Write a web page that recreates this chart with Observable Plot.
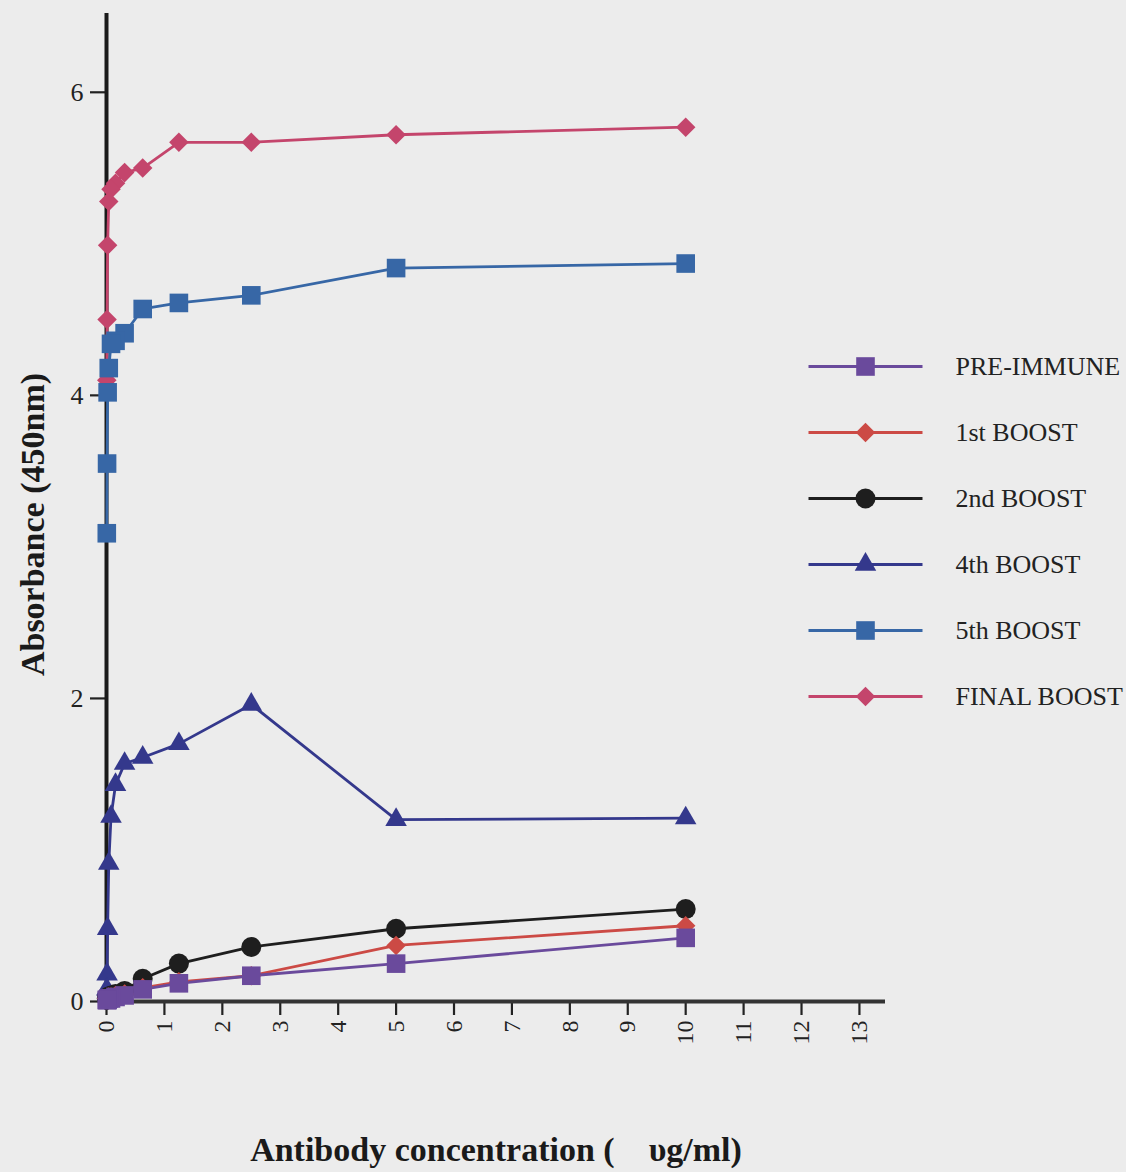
<!DOCTYPE html>
<html>
<head>
<meta charset="utf-8">
<script src="https://cdn.jsdelivr.net/npm/d3@7"></script>
<script src="https://cdn.jsdelivr.net/npm/@observablehq/plot@0.6"></script>
<style>
  html, body { margin: 0; padding: 0; background: #ececec; }
  #wrap { position: relative; width: 1126px; height: 1172px; overflow: hidden; }
  #legend { position: absolute; left: 800px; top: 300px; }
</style>
</head>
<body>
<div id="wrap"><div id="chart"></div><div id="legend"></div></div>
<script>
// Antibody concentrations (ug/ml), two-fold dilution series
const conc = [10, 5, 2.5, 1.25, 0.625, 0.3125, 0.156, 0.078, 0.039, 0.0195, 0.0098, 0.0049];

// Absorbance (450nm) per series, in the same order as conc
const preImmune  = [0.42, 0.25, 0.17, 0.12, 0.08, 0.04, 0.03, 0.02, 0.02, 0.01, 0.01, 0.01];
const boost1     = [0.50, 0.37, 0.17, 0.13, 0.09, 0.05, 0.04, 0.03, 0.03, 0.02, 0.02, 0.02];
const boost2     = [0.61, 0.48, 0.36, 0.25, 0.15, 0.07, 0.05, 0.04, 0.03, 0.03, 0.02, 0.02];
const boost4     = [1.21, 1.20, 1.96, 1.70, 1.61, 1.57, 1.43, 1.22, 0.91, 0.48, 0.18, 0.08];
const boost5     = [4.87, 4.84, 4.66, 4.61, 4.57, 4.41, 4.36, 4.34, 4.18, 4.02, 3.55, 3.09];
const finalBoost = [5.77, 5.72, 5.67, 5.67, 5.50, 5.47, 5.40, 5.36, 5.28, 4.99, 4.50, 4.10];

const seriesNames = ["PRE-IMMUNE", "1st BOOST", "2nd BOOST", "4th BOOST", "5th BOOST", "FINAL BOOST"];
const seriesValues = [preImmune, boost1, boost2, boost4, boost5, finalBoost];
const seriesColors = ["#6a4a9c", "#cc4a45", "#1e1e1e", "#34388c", "#3767a6", "#c4456c"];
const seriesSymbols = ["square", "diamond2", "circle", "triangle", "square", "diamond2"];
const seriesR = [10.5, 8.8, 10, 8, 10.5, 8.8];

const xTicks = d3.range(0, 14);
const yTicks = [0, 2, 4, 6];

// drawing order: top series drawn first so the low series sit on top
const drawOrder = ["FINAL BOOST", "5th BOOST", "4th BOOST", "2nd BOOST", "1st BOOST", "PRE-IMMUNE"];

const rows = [];
seriesNames.forEach((name, si) => {
  conc.forEach((c, i) => rows.push({series: name, x: c, y: seriesValues[si][i], r: seriesR[si]}));
});

const font = "'Liberation Serif', 'Times New Roman', serif";

const chart = Plot.plot({
  width: 1126,
  height: 1172,
  marginLeft: 106,
  marginRight: 241,
  marginTop: 13,
  marginBottom: 171,
  x: {domain: [0, 13.45]},
  y: {domain: [0, 6.52]},
  color: {domain: seriesNames, range: seriesColors},
  symbol: {domain: seriesNames, range: seriesSymbols},
  r: {type: "identity"},
  style: {background: "transparent", fontFamily: font, color: "#222"},
  marks: [
    Plot.axisY({ticks: yTicks, tickSize: 16, tickPadding: 7, fontSize: 26, strokeWidth: 2.2, label: null, tickFormat: d => d}),
    Plot.axisX({ticks: xTicks, tickSize: 14, tickPadding: 5, tickRotate: -90, fontSize: 24, strokeWidth: 2.2, label: null, tickFormat: d => d}),
    Plot.ruleX([0], {y1: -0.06, y2: 6.52, stroke: "#1a1a1a", strokeWidth: 4}),
    Plot.ruleY([0], {x1: 0, x2: 13.45, stroke: "#333", strokeWidth: 4}),
    ...drawOrder.map(name => Plot.line(rows.filter(d => d.series === name), {
      x: "x", y: "y", stroke: "series", strokeWidth: 2.8, curve: "linear"
    })),
    ...drawOrder.map(name => Plot.dot(rows.filter(d => d.series === name), {
      x: "x", y: "y", fill: "series", symbol: "series", r: "r", stroke: "none"
    })),
    Plot.text(["Absorbance (450nm)"], {
      frameAnchor: "left", dx: -73, dy: 17, rotate: -90, textAnchor: "middle", lineAnchor: "middle",
      fontSize: 34, fontWeight: "bold", fill: "#1a1a1a", fontFamily: font
    }),
    Plot.text(["Antibody concentration (\u00a0\u00a0\u00a0\u00a0\u03c5g/ml)"], {
      frameAnchor: "bottom", dy: 149, textAnchor: "middle", lineAnchor: "middle",
      fontSize: 34, fontWeight: "bold", fill: "#1a1a1a", fontFamily: font
    })
  ]
});
document.getElementById("chart").appendChild(chart);

// Legend
const legendRows = seriesNames.map((name, i) => ({series: name, r: seriesR[i]}));
const legend = Plot.plot({
  width: 326,
  height: 430,
  margin: 0,
  x: {domain: [0, 1], range: [8, 122], axis: null},
  y: {type: "point", domain: seriesNames, range: [66, 396], padding: 0, axis: null},
  color: {domain: seriesNames, range: seriesColors},
  symbol: {domain: seriesNames, range: seriesSymbols},
  r: {type: "identity"},
  style: {background: "transparent", fontFamily: font},
  marks: [
    Plot.link(legendRows, {x1: () => 0, x2: () => 1, y1: "series", y2: "series", stroke: "series", strokeWidth: 2.8}),
    Plot.dot(legendRows, {x: () => 0.5, y: "series", fill: "series", symbol: "series", r: "r"}),
    Plot.text(legendRows, {x: () => 1, y: "series", text: "series", dx: 33, textAnchor: "start", fontSize: 26, fill: "#222", fontFamily: font})
  ]
});
document.getElementById("legend").appendChild(legend);
</script>
</body>
</html>
